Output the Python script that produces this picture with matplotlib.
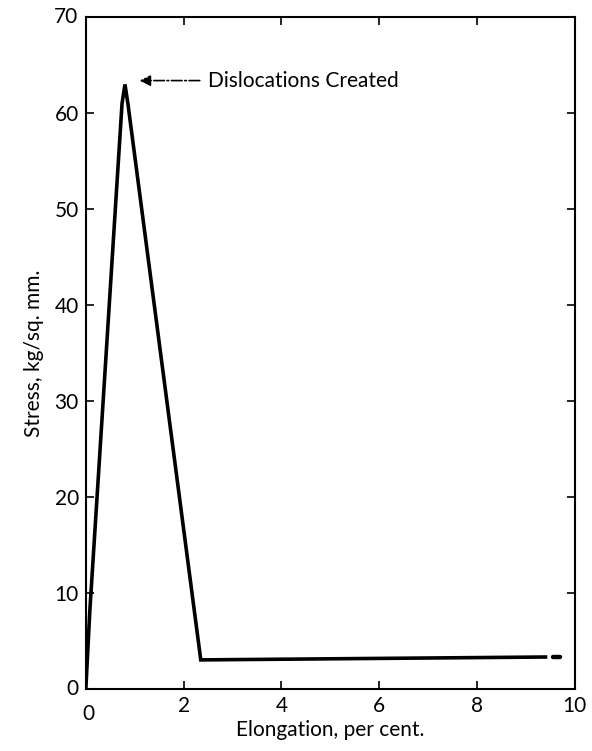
# Stress-elongation curve, dislocations created at the yield peak

import numpy as np
import matplotlib.pyplot as plt

# ============================================================
# DATA
# ============================================================

elongation = [0.0, 0.08, 0.74, 0.80, 0.86, 2.35, 9.40]
stress = [0.0, 8.0, 61.0, 63.0, 61.0, 3.0, 3.3]

tail_elongation = [9.55, 9.70]
tail_stress = [3.3, 3.3]

x_ticks = [2, 4, 6, 8]
y_ticks = [10, 20, 30, 40, 50, 60]

annotation_text = "Dislocations Created"

# ============================================================
# FIGURE
# ============================================================

plt.rcParams['font.family'] = ['Lato', 'DejaVu Sans']

fig = plt.figure(figsize=(5.92, 7.51), dpi=100)
ax = fig.add_axes([0.145, 0.083, 0.826, 0.894])

ax.plot(elongation, stress, color='black', linewidth=2.6,
        solid_joinstyle='miter')
ax.plot(tail_elongation, tail_stress, color='black', linewidth=3.2,
        solid_capstyle='round')

ax.set_xlim(0, 10)
ax.set_ylim(0, 70)

# ticks inward on every side
ax.set_xticks(x_ticks)
ax.set_yticks(y_ticks)
ax.tick_params(direction='in', length=6, width=1.2,
               top=True, right=True, labelsize=15)
ax.tick_params(axis='x', pad=5)
ax.tick_params(axis='y', pad=5)

for spine in ax.spines.values():
    spine.set_linewidth(1.5)

# corner labels
ax.text(-0.15, 70, "70", ha='right', va='center', fontsize=15)
ax.text(-0.15, 0, "0", ha='right', va='center', fontsize=15)
ax.text(0.05, -1.6, "0", ha='center', va='top', fontsize=15)
ax.text(10.0, -0.8, "10", ha='center', va='top', fontsize=15)

ax.set_xlabel("Elongation, per cent.", fontsize=15, labelpad=3)
ax.set_ylabel("Stress, kg/sq. mm.", fontsize=15, labelpad=8)

# annotation arrow
ax.annotate(annotation_text,
            xy=(1.1, 63.4), xytext=(2.5, 63.4),
            fontsize=15, va='center', ha='left',
            arrowprops=dict(arrowstyle='-|>', color='black',
                            linestyle='-.', linewidth=1.2,
                            mutation_scale=16, shrinkA=4, shrinkB=0))

fig.savefig("out.png", dpi=100)
